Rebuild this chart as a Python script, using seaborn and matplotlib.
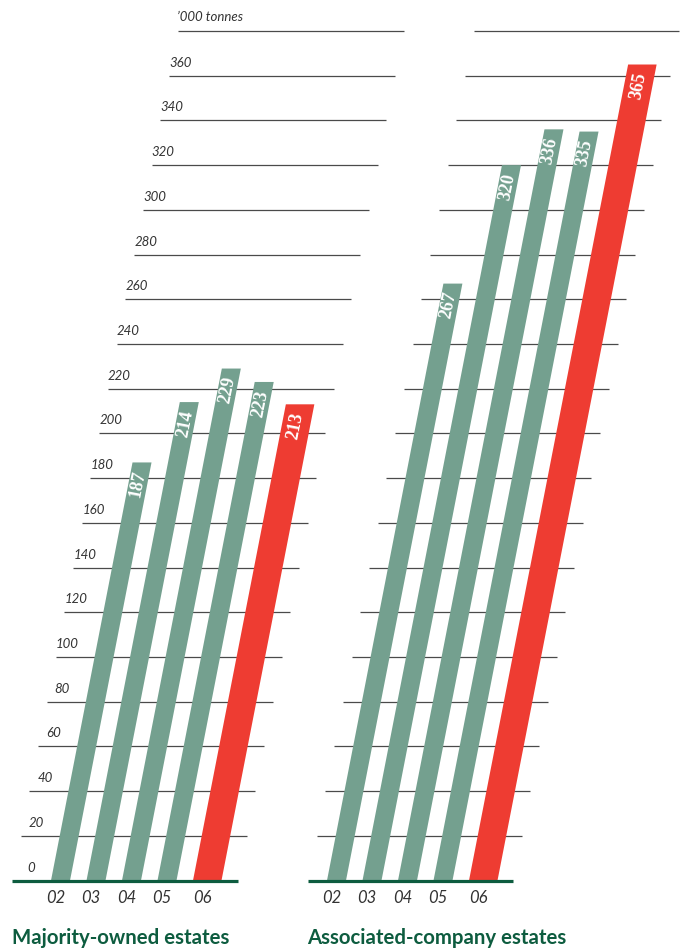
import numpy as np
import matplotlib
matplotlib.use("Agg")
import matplotlib.pyplot as plt
import matplotlib.transforms as mtransforms
import seaborn as sns

# ---------------- data ----------------
years = ["02", "03", "04", "05", "06"]
majority = [187, 214, 229, 223, 213]
associated = [267, 320, 336, 335, 365]
grid_levels = list(range(20, 381, 20))
level_labels = [str(v) for v in range(0, 361, 20)] + ["\u2019000 tonnes"]
titles = ["Majority-owned estates", "Associated-company estates"]
bar_colors = ["#74a08f", "#74a08f", "#74a08f", "#74a08f", "#ee3c32"]

# ---------------- geometry / style ----------------
W, H, DPI = 680, 950, 100
PX_X = 35.5        # px per category step
PX_Y = 2.2356      # px per tonne
BASE_Y = 880.5     # baseline pixel (from top)
SHEAR = 0.195      # horizontal px per vertical px
GREEN_W = 19 / PX_X
RED_W = 28.5 / PX_X
GRID_COL = "#4a4a4a"
BASE_COL = "#0d5c3f"
TITLE_COL = "#0d5c3f"
LABEL_COL = "#333333"

sns.set_theme(style="white")
plt.rcParams["font.family"] = ["Lato", "DejaVu Sans"]

fig = plt.figure(figsize=(W / DPI, H / DPI), dpi=DPI)
fig.patch.set_facecolor("white")

k = SHEAR * PX_Y / PX_X
shear = mtransforms.Affine2D(np.array([[1.0, k, 0.0], [0.0, 1.0, 0.0], [0.0, 0.0, 1.0]]))

panels = [
    dict(values=majority, bar0=60.5, line_start=12, line_end=238, labels=True, title_x=12),
    dict(values=associated, bar0=336.5, line_start=308, line_end=513, labels=False, title_x=307),
]

for pi, pn in enumerate(panels):
    ax = fig.add_axes([0, 0, 1, 1])
    ax.patch.set_visible(False)
    x0 = pn["bar0"]
    sns.barplot(x=years, y=pn["values"], hue=years, palette=bar_colors,
                width=GREEN_W, saturation=1, legend=False, errorbar=None,
                linewidth=0, ax=ax)
    ax.set_xlim(-x0 / PX_X, (W - x0) / PX_X)
    ax.set_ylim(-(H - BASE_Y) / PX_Y, BASE_Y / PX_Y)
    ax.set_axis_off()
    tr = shear + ax.transData

    ls = (pn["line_start"] - x0) / PX_X
    le = (pn["line_end"] - x0) / PX_X

    # grid lines (behind bars)
    ax.hlines(grid_levels, ls, le, colors=GRID_COL, linewidth=0.9,
              transform=tr, zorder=0.5)
    # baseline
    ax.hlines([0], ls, le, colors=BASE_COL, linewidth=2.3, transform=tr, zorder=5)

    patches = list(ax.patches)
    for i, p in enumerate(patches):
        if i == len(patches) - 1:
            p.set_width(RED_W)
        p.set_transform(tr)
        p.set_zorder(2)
        cx = p.get_x() + p.get_width() / 2
        v = pn["values"][i]
        ax.text(cx, v - 3.8, str(v), rotation=90 - np.degrees(np.arctan(SHEAR)),
                rotation_mode="anchor", ha="right", va="center", color="white",
                fontfamily="Liberation Serif", fontweight="bold", fontsize=13,
                transform=tr, zorder=6)
        # year labels below
        ax.text(cx - 5 / PX_X, (BASE_Y - 898) / PX_Y, years[i], ha="center",
                va="center", fontsize=12, fontstyle="italic", color=LABEL_COL,
                transform=ax.transData)

    if pn["labels"]:
        for lv, lab in zip([0] + grid_levels, level_labels):
            if lab.startswith("\u2019"):
                ax.text(ls - 3.5 / PX_X, lv + 14 / PX_Y, lab, ha="left", va="center",
                        fontsize=9.5, fontstyle="italic", color=LABEL_COL, transform=tr)
            else:
                ax.text(ls + 20.5 / PX_X, lv + 13 / PX_Y, lab, ha="right", va="center",
                        fontsize=9.5, fontstyle="italic", color=LABEL_COL, transform=tr)

    fig.text(pn["title_x"] / W, 1 - 944 / H, titles[pi], ha="left", va="baseline",
             fontsize=14.7, fontweight="bold", color=TITLE_COL)

fig.savefig("out.png", dpi=DPI, facecolor="white")
